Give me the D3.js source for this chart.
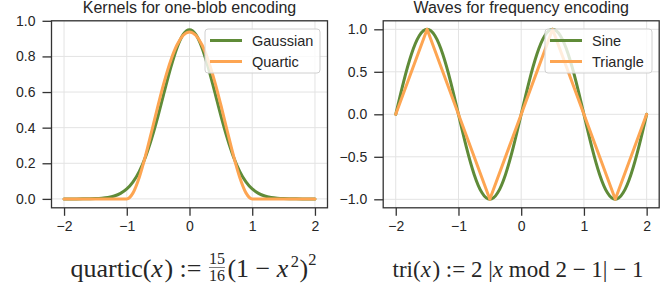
<!DOCTYPE html>
<html>
<head>
<meta charset="utf-8">
<script src="https://cdn.jsdelivr.net/npm/d3@7"></script>
<style>
  body { margin: 0; background: #fff; }
  text { font-family: "Liberation Sans", Arial, sans-serif; fill: #262626; }
  .math text { font-family: "Liberation Serif", "Times New Roman", serif; white-space: pre; }
</style>
</head>
<body>
<div id="chart"></div>
<script>
// x samples for the kernel plot (step 0.1) and the wave plot (step 0.125)
const kernelX = [-2.0,-1.9,-1.8,-1.7,-1.6,-1.5,-1.4,-1.3,-1.2,-1.1,-1.0,-0.9,-0.8,-0.7,-0.6,-0.5,-0.4,-0.3,-0.2,-0.1,
  0.0,0.1,0.2,0.3,0.4,0.5,0.6,0.7,0.8,0.9,1.0,1.1,1.2,1.3,1.4,1.5,1.6,1.7,1.8,1.9,2.0];
const gaussianY = [0,0,0.0001,0.0003,0.0007,0.0016,0.0037,0.0079,0.0160,0.0308,0.0558,0.0957,0.1549,0.2369,0.3425,0.4677,0.6036,0.7361,0.8481,0.9235,
  0.95,0.9235,0.8481,0.7361,0.6036,0.4677,0.3425,0.2369,0.1549,0.0957,0.0558,0.0308,0.0160,0.0079,0.0037,0.0016,0.0007,0.0003,0.0001,0,0];
const quarticY = [0,0,0,0,0,0,0,0,0,0,0,0.0338,0.1215,0.2438,0.3840,0.5273,0.6615,0.7763,0.8640,0.9188,
  0.9375,0.9188,0.8640,0.7763,0.6615,0.5273,0.3840,0.2438,0.1215,0.0338,0,0,0,0,0,0,0,0,0,0,0];

const waveX = [-2,-1.875,-1.75,-1.625,-1.5,-1.375,-1.25,-1.125,-1,-0.875,-0.75,-0.625,-0.5,-0.375,-0.25,-0.125,
  0,0.125,0.25,0.375,0.5,0.625,0.75,0.875,1,1.125,1.25,1.375,1.5,1.625,1.75,1.875,2];
const sineY = [0,0.3827,0.7071,0.9239,1,0.9239,0.7071,0.3827,0,-0.3827,-0.7071,-0.9239,-1,-0.9239,-0.7071,-0.3827,
  0,0.3827,0.7071,0.9239,1,0.9239,0.7071,0.3827,0,-0.3827,-0.7071,-0.9239,-1,-0.9239,-0.7071,-0.3827,0];
const triX = [-2,-1.5,-0.5,0.5,1.5,2];
const triY = [0,1,-1,1,-1,0];

const xTicks = [-2,-1,0,1,2];
const kernelTicks = [0,0.2,0.4,0.6,0.8,1.0];
const waveTicks = [-1,-0.5,0,0.5,1];

const green = "#5f8b38", orange = "#fda552";

const width = 670, height = 287;
const svg = d3.select("#chart").append("svg")
  .attr("width", width).attr("height", height);

const fmtMinus = s => s.replace("-", "\u2212");

function panel(opts) {
  const x = d3.scaleLinear().domain([-2.2, 2.2]).range([opts.left, opts.left + 276]);
  const y = d3.scaleLinear().domain(opts.yDomain).range([207.8, 20.8]);
  const g = svg.append("g");

  // grid
  g.selectAll(".vg").data(xTicks).enter().append("line")
    .attr("x1", d => x(d)).attr("x2", d => x(d)).attr("y1", y.range()[0]).attr("y2", y.range()[1])
    .attr("stroke", "#e3e3e3").attr("stroke-width", 1);
  g.selectAll(".hg").data(opts.yTicks).enter().append("line")
    .attr("y1", d => y(d)).attr("y2", d => y(d)).attr("x1", x.range()[0]).attr("x2", x.range()[1])
    .attr("stroke", "#e3e3e3").attr("stroke-width", 1);

  // series
  opts.series.forEach(s => {
    const pts = s.x.map((v, i) => [v, s.y[i]]);
    g.append("path")
      .attr("d", d3.line().x(d => x(d[0])).y(d => y(d[1])).curve(s.curve)(pts))
      .attr("fill", "none").attr("stroke", s.color).attr("stroke-width", 3)
      .attr("stroke-linejoin", "round").attr("stroke-linecap", "round");
  });

  // axes
  const xa = g.append("g").attr("transform", `translate(0,${y.range()[0]})`)
    .call(d3.axisBottom(x).tickValues(xTicks).tickSize(8).tickPadding(5).tickFormat(d => fmtMinus(String(d))));
  const ya = g.append("g").attr("transform", `translate(${x.range()[0]},0)`)
    .call(d3.axisLeft(y).tickValues(opts.yTicks).tickSize(9).tickPadding(7).tickFormat(d => fmtMinus(d3.format(".1f")(d))));
  [xa, ya].forEach(a => {
    a.select(".domain").remove();
    a.selectAll(".tick line").attr("stroke", "#333").attr("stroke-width", 1.3);
    a.selectAll(".tick text").attr("font-size", 14).attr("fill", "#262626")
      .style("font-family", '"Liberation Sans", Arial, sans-serif');
  });

  // frame
  g.append("rect")
    .attr("x", x.range()[0]).attr("y", y.range()[1])
    .attr("width", x.range()[1] - x.range()[0]).attr("height", y.range()[0] - y.range()[1])
    .attr("fill", "none").attr("stroke", "#333").attr("stroke-width", 1.3);

  // title
  g.append("text").attr("x", (x.range()[0] + x.range()[1]) / 2).attr("y", 12.5)
    .attr("text-anchor", "middle").attr("font-size", 16).text(opts.title);

  // legend
  const lg = g.append("g").attr("transform", `translate(${opts.legendX},29)`);
  lg.append("rect").attr("width", opts.legendW).attr("height", 44).attr("rx", 3)
    .attr("fill", "white").attr("fill-opacity", 0.8).attr("stroke", "#d0d0d0");
  opts.series.forEach((s, i) => {
    lg.append("line").attr("x1", 5).attr("x2", 37).attr("y1", 11.5 + i * 21).attr("y2", 11.5 + i * 21)
      .attr("stroke", s.color).attr("stroke-width", 3);
    lg.append("text").attr("x", 47).attr("y", 11.5 + i * 21).attr("dy", "0.35em")
      .attr("font-size", 14.5).text(s.name);
  });
}

panel({
  left: 51.5, yDomain: [-0.05, 1.0], yTicks: kernelTicks,
  title: "Kernels for one-blob encoding", legendX: 205, legendW: 115,
  series: [
    { name: "Gaussian", x: kernelX, y: gaussianY, color: green, curve: d3.curveMonotoneX },
    { name: "Quartic", x: kernelX, y: quarticY, color: orange, curve: d3.curveMonotoneX }
  ]
});
panel({
  left: 383.2, yDomain: [-1.1, 1.1], yTicks: waveTicks,
  title: "Waves for frequency encoding", legendX: 545, legendW: 107,
  series: [
    { name: "Sine", x: waveX, y: sineY, color: green, curve: d3.curveNatural },
    { name: "Triangle", x: triX, y: triY, color: orange, curve: d3.curveLinear }
  ]
});

// formulas below the panels
function formula(cx, baseline, fs, parts) {
  const g = svg.append("g").attr("class", "math");
  let cur = 0;
  parts.forEach(p => {
    if (p.frac) {
      const ffs = 16;
      const a = g.append("text").attr("x", cur).attr("y", baseline - 13.5).attr("font-size", ffs).text(p.frac[0]);
      const b = g.append("text").attr("x", cur).attr("y", baseline + 3.5).attr("font-size", ffs).text(p.frac[1]);
      const w = Math.max(a.node().getComputedTextLength(), b.node().getComputedTextLength());
      a.attr("x", cur + 1 + (w - a.node().getComputedTextLength()) / 2);
      b.attr("x", cur + 1 + (w - b.node().getComputedTextLength()) / 2);
      g.append("line").attr("x1", cur + 1).attr("x2", cur + 1 + w)
        .attr("y1", baseline - 9.5).attr("y2", baseline - 9.5).attr("stroke", "#000").attr("stroke-width", 0.5);
      cur += w + 3.5;
      return;
    }
    const t = g.append("text").attr("x", cur).attr("font-size", p.sup ? 16.5 : fs)
      .attr("y", baseline - (p.sup || 0))
      .style("font-style", p.it ? "italic" : "normal").text(p.t);
    cur += t.node().getComputedTextLength() + (p.after || 0);
  });
  g.selectAll("text").attr("fill", "#000");
  g.attr("transform", `translate(${cx - cur / 2},0)`);
}

formula(193.5, 277, 26, [
  { t: "quartic(" }, { t: "x", it: true, after: 1.5 }, { t: ") := " },
  { frac: ["15", "16"] },
  { t: "(1 \u2212 " }, { t: "x", it: true, after: 2.5 }, { t: "2", sup: 10, after: 0.5 }, { t: ")" }, { t: "2", sup: 12 }
]);
formula(518, 277, 23, [
  { t: "tri(" }, { t: "x", it: true, after: 1.5 }, { t: ") := 2 |" }, { t: "x", it: true },
  { t: " mod 2 \u2212 1| \u2212 1" }
]);
</script>
</body>
</html>
